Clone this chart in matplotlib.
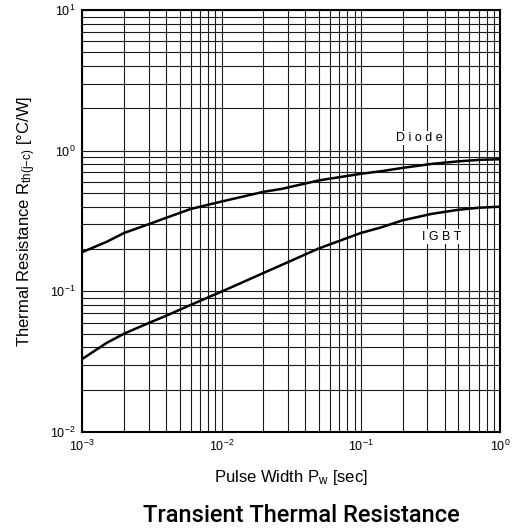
import matplotlib
matplotlib.use("Agg")
import matplotlib.pyplot as plt
from matplotlib.ticker import LogLocator, LogFormatterMathtext, NullFormatter

plt.rcParams['font.family'] = ['Liberation Sans', 'DejaVu Sans']
plt.rcParams['mathtext.fontset'] = 'custom'
plt.rcParams['mathtext.rm'] = 'Liberation Sans'
plt.rcParams['mathtext.it'] = 'Liberation Sans'

# pulse width [sec] and transient thermal resistance [°C/W]
pulse_width = [0.001, 0.0015, 0.002, 0.003, 0.004, 0.006, 0.01, 0.02, 0.027,
               0.05, 0.1, 0.14, 0.2, 0.32, 0.5, 0.7, 1.0]
rth_diode = [0.19, 0.225, 0.26, 0.30, 0.333, 0.385, 0.435, 0.51, 0.535,
             0.615, 0.685, 0.715, 0.755, 0.805, 0.84, 0.86, 0.87]
rth_igbt = [0.033, 0.043, 0.050, 0.0595, 0.067, 0.080, 0.0995, 0.135, 0.154,
            0.202, 0.26, 0.285, 0.32, 0.355, 0.38, 0.393, 0.40]

fig = plt.figure(figsize=(5.2, 5.3), dpi=100)
ax = fig.add_axes([0.158, 0.185, 0.804, 0.796])

ax.plot(pulse_width, rth_diode, color='black', lw=1.8, zorder=3)
ax.plot(pulse_width, rth_igbt, color='black', lw=1.8, zorder=3)

ax.set_xscale('log')
ax.set_yscale('log')
ax.set_xlim(1e-3, 1e0)
ax.set_ylim(1e-2, 1e1)

ax.xaxis.set_major_locator(LogLocator(base=10))
ax.yaxis.set_major_locator(LogLocator(base=10))
ax.xaxis.set_minor_locator(LogLocator(base=10, subs=range(2, 10)))
ax.yaxis.set_minor_locator(LogLocator(base=10, subs=range(2, 10)))
ax.xaxis.set_major_formatter(LogFormatterMathtext())
ax.yaxis.set_major_formatter(LogFormatterMathtext())
ax.xaxis.set_minor_formatter(NullFormatter())
ax.yaxis.set_minor_formatter(NullFormatter())

ax.grid(which='both', color='#1a1a1a', lw=0.8)
ax.tick_params(which='both', length=0, labelsize=9, pad=5)
for s in ax.spines.values():
    s.set_linewidth(1.5)

ax.text(0.262, 1.23, 'D i o d e', ha='center', va='center', fontsize=9,
        bbox=dict(fc='white', ec='none', pad=1), zorder=4)
ax.text(0.377, 0.244, 'I G B T', ha='center', va='center', fontsize=9,
        bbox=dict(fc='white', ec='none', pad=1), zorder=4)

ax.set_xlabel('Pulse Width P$_\\mathrm{w}$ [sec]', fontsize=12, labelpad=10)
ax.set_ylabel('Thermal Resistance R$_\\mathrm{th(j{-}c)}$ [°C/W]', fontsize=12, labelpad=8)

fig.text(0.579, 0.028, 'Transient Thermal Resistance', ha='center', va='center',
         fontsize=17, fontweight='medium', family=['Roboto', 'Liberation Sans'])

fig.savefig('out.png', dpi=100)
